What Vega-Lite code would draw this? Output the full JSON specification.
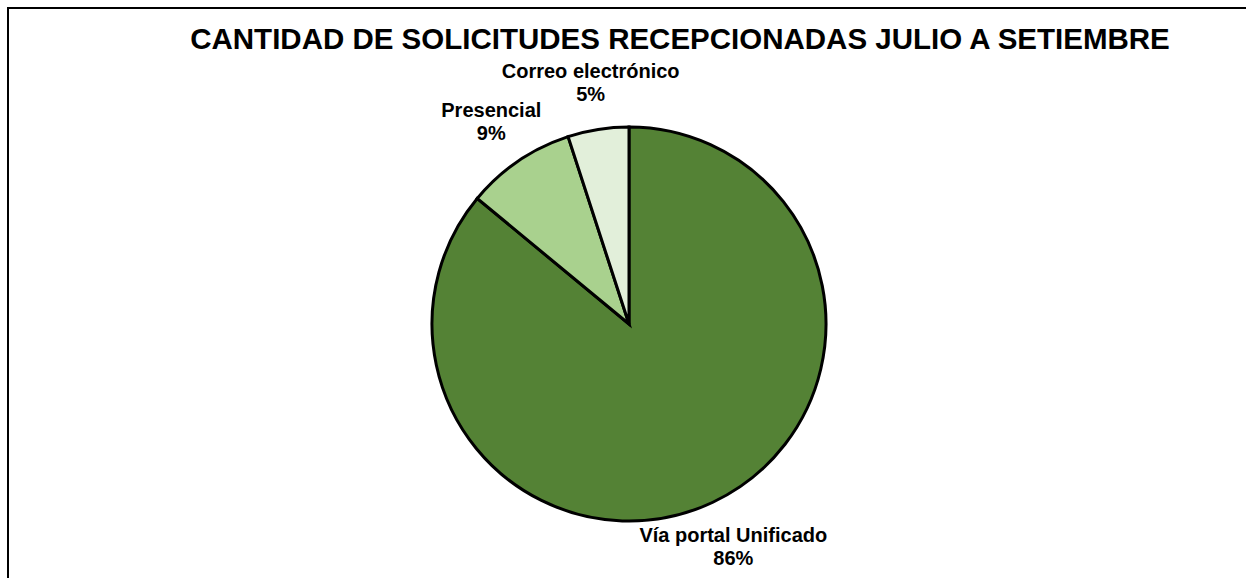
{
  "$schema": "https://vega.github.io/schema/vega-lite/v6.json",
  "autosize": "none",
  "padding": {"left": 8, "top": 8, "right": 0, "bottom": 0},
  "width": 1242,
  "height": 632,
  "background": "white",
  "view": {"stroke": "black", "strokeWidth": 2, "fill": "white"},
  "config": {
    "view": {"stroke": "black", "strokeWidth": 2},
    "font": "Liberation Sans"
  },
  "title": {
    "text": "CANTIDAD DE SOLICITUDES RECEPCIONADAS JULIO A SETIEMBRE",
    "font": "Liberation Sans",
    "fontSize": 29.5,
    "fontWeight": "bold",
    "color": "black",
    "anchor": "middle",
    "frame": "group",
    "baseline": "top",
    "dx": 51,
    "offset": -47
  },
  "data": {
    "values": [
      {"canal": "Vía portal Unificado", "proporcion": 0.86},
      {"canal": "Presencial", "proporcion": 0.09},
      {"canal": "Correo electrónico", "proporcion": 0.05}
    ]
  },
  "encoding": {
    "theta": {"field": "proporcion", "type": "quantitative", "stack": true},
    "order": {"field": "proporcion", "type": "quantitative", "sort": "descending"}
  },
  "layer": [
    {
      "mark": {"type": "arc", "outerRadius": 197, "stroke": "black", "strokeWidth": 3},
      "encoding": {
        "color": {
          "field": "canal",
          "type": "nominal",
          "scale": {
            "domain": ["Vía portal Unificado", "Presencial", "Correo electrónico"],
            "range": ["#548235", "#A9D18E", "#E2EFDA"]
          },
          "legend": null
        }
      }
    },
    {
      "mark": {"type": "text", "radius": 245, "fontSize": 20, "fontWeight": "bold", "font": "Liberation Sans", "color": "black", "baseline": "bottom", "align": "center"},
      "encoding": {"text": {"field": "canal", "type": "nominal"}}
    },
    {
      "mark": {"type": "text", "radius": 245, "fontSize": 20, "fontWeight": "bold", "font": "Liberation Sans", "color": "black", "baseline": "top", "dy": 3, "align": "center"},
      "encoding": {"text": {"field": "proporcion", "type": "quantitative", "format": ".0%"}}
    }
  ]
}
